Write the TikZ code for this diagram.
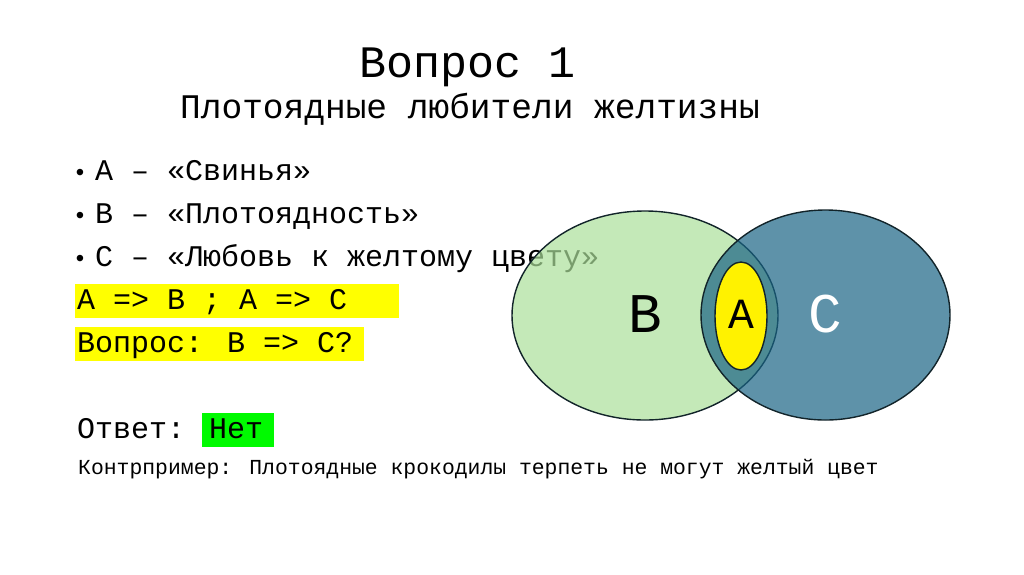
\documentclass[tikz,border=0pt]{standalone}
\usepackage{fontspec}
\setmainfont{Liberation Mono}
\usepackage{xcolor}
\definecolor{setB}{RGB}{171,223,154}
\definecolor{setC}{RGB}{26,100,133}
\definecolor{rim}{RGB}{18,36,42}
\definecolor{hlyellow}{RGB}{255,255,0}
\definecolor{hlgreen}{RGB}{0,250,0}

\begin{document}
\begin{tikzpicture}[x=1pt,y=-1pt,inner sep=0pt,
  line/.style={anchor=base west,font=\fontsize{30}{36}\selectfont},
  dot/.style={anchor=base,font=\fontsize{24}{28}\selectfont},
  venn/.style={draw=rim,line width=1.4pt}]
\useasboundingbox (0,0) rectangle (1024,574);
% title
\node[anchor=base,font=\fontsize{45}{54}\selectfont] (title) at (468,77) {Вопрос 1};
\node[anchor=base,font=\fontsize{34.5}{40}\selectfont] (subtitle) at (470,118) {Плотоядные любители желтизны};
% highlights
\fill[hlyellow] (75,284) rectangle (399,318);
\fill[hlyellow] (75,327) rectangle (364,361);
\fill[hlgreen] (202,413) rectangle (274,447);
% list
\node[dot] (dotA) at (80,180) {•};
\node[dot] (dotB) at (80,223) {•};
\node[dot] (dotC) at (80,266) {•};
\node[line] (itemA) at (95,180) {А – «Свинья»};
\node[line] (itemB) at (95,223) {В – «Плотоядность»};
\node[line] (itemC) at (95,266) {С – «Любовь к желтому цвету»};
\node[line] (rule) at (77,309) {А => В ; А => С};
\node[line] (question) at (77,352) {Вопрос: В => С?};
\node[line] (answer) at (77,438) {Ответ: Нет};
\node[anchor=base west,font=\fontsize{21.4}{26}\selectfont] (counter) at (78,474) {Контрпример: Плотоядные крокодилы терпеть не могут желтый цвет};
% sets
\filldraw[venn,fill=setB,fill opacity=0.7] (645,315.5) ellipse [x radius=133pt,y radius=104.5pt];
\filldraw[venn,fill=setC,fill opacity=0.7] (825.5,315) ellipse [x radius=124.5pt,y radius=105pt];
\filldraw[venn,fill=yellow] (741,316) ellipse [x radius=26pt,y radius=54pt];
\node[anchor=base,font=\fontsize{56}{60}\selectfont] (labB) at (645,332) {B};
\node[anchor=base,font=\fontsize{43}{48}\selectfont] (labA) at (741,328) {A};
\node[anchor=base,font=\fontsize{56}{60}\selectfont,text=white] (labC) at (825,332) {C};
\end{tikzpicture}
\end{document}
